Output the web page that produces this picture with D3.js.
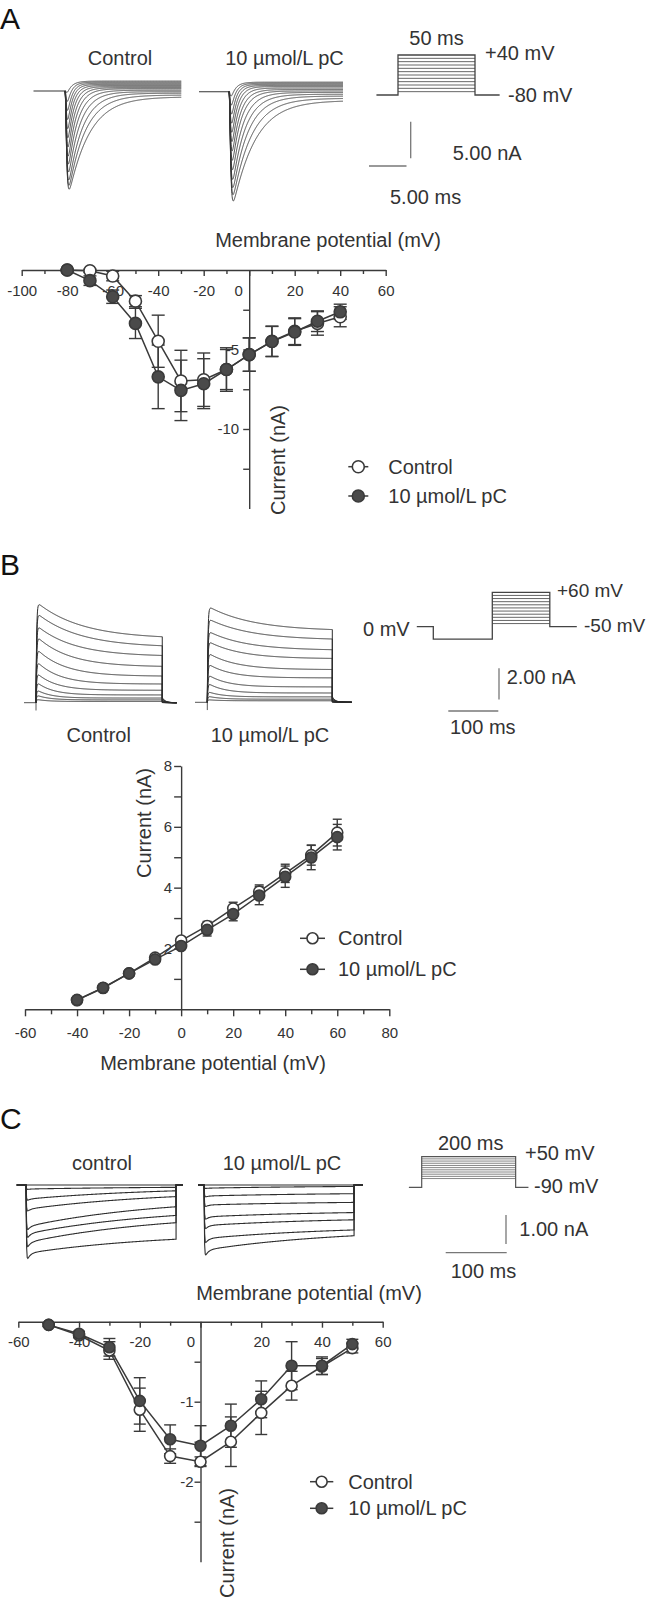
<!DOCTYPE html>
<html><head><meta charset="utf-8">
<script src="https://cdn.jsdelivr.net/npm/d3@7"></script>
<style>body{margin:0;background:#fff}svg{display:block}</style>
</head><body>
<script>
// ================= DATA =================
// Panel A (I-V, inward current)
const voltsA = [-80,-70,-60,-50,-40,-30,-20,-10,0,10,20,30,40];
const ctrlA = [0,-0.05,-0.38,-1.96,-4.48,-6.98,-6.9,-6.26,-5.32,-4.48,-3.85,-3.36,-2.94];
const ctrlSemA = [0.05,0.1,0.3,0.35,1.64,1.93,1.68,1.37,1.05,0.95,0.84,0.74,0.63];
const pcA = [0,-0.67,-1.68,-3.36,-6.72,-7.57,-7.15,-6.26,-5.32,-4.5,-3.9,-3.22,-2.63];
const pcSemA = [0.05,0.3,0.42,0.95,2.0,1.9,1.57,1.26,1.05,0.95,0.84,0.65,0.48];
const xTicksA = [-100,-80,-60,-40,-20,0,20,40,60];
const xMinorA = [-90,-70,-50,-30,-10,10,30,50];
const yTicksA = [-2.5,-5,-7.5,-10,-12.5];
const yLabelsA = [-5,-10];

// Panel B (I-V, outward current)
const voltsB = [-40,-30,-20,-10,0,10,20,30,40,50,60];
const ctrlB = [0.3,0.7,1.18,1.7,2.26,2.74,3.32,3.87,4.47,5.07,5.81];
const ctrlSemB = [0.03,0.04,0.05,0.08,0.1,0.15,0.2,0.22,0.3,0.33,0.44];
const pcB = [0.31,0.71,1.18,1.64,2.08,2.61,3.13,3.74,4.36,4.99,5.66];
const pcSemB = [0.03,0.04,0.05,0.08,0.1,0.2,0.22,0.3,0.35,0.4,0.42];
const xTicksB = [-60,-40,-20,0,20,40,60,80];
const xMinorB = [-50,-30,-10,10,30,50,70];
const yTicksB = [1,2,3,4,5,6,7,8];
const yLabelsB = [2,4,6,8];

// Panel C (I-V)
const voltsC = [-50,-40,-30,-20,-10,0,10,20,30,40,50];
const ctrlC = [-0.04,-0.17,-0.36,-1.10,-1.68,-1.75,-1.50,-1.14,-0.80,-0.56,-0.33];
const ctrlSemC = [0.02,0.03,0.11,0.27,0.09,0.06,0.31,0.27,0.18,0.1,0.06];
const pcC = [-0.04,-0.15,-0.32,-0.99,-1.47,-1.55,-1.30,-0.97,-0.55,-0.55,-0.28];
const pcSemC = [0.02,0.03,0.11,0.29,0.18,0.25,0.27,0.23,0.3,0.11,0.06];
const xTicksC = [-60,-40,-20,0,20,40,60];
const xMinorC = [-50,-30,-10,10,30,50];
const yTicksC = [-0.5,-1,-1.5,-2,-2.5];
const yLabelsC = [-1,-2];

// Representative current traces (per sweep parameters, nA / ms)
const trPeakA_ctrl = [-13.0,-12.6,-12.0,-11.0,-10.0,-9.0,-7.8,-6.6,-5.4,-4.2,-3.0,-1.8,-0.6];
const trTauA_ctrl  = [2.7,2.2,1.85,1.55,1.3,1.1,0.95,0.82,0.72,0.64,0.58,0.52,0.48];
const trSsA_ctrl   = [-0.8,-0.55,-0.3,-0.1,0.1,0.3,0.45,0.6,0.75,0.9,1.05,1.2,1.35];
const trPeakA_pc = [-14.3,-13.6,-12.8,-11.8,-10.6,-9.4,-8.2,-7.0,-5.8,-4.6,-3.4,-2.2,-1.0];
const trTauA_pc  = [2.9,2.4,2.0,1.7,1.45,1.2,1.05,0.9,0.78,0.68,0.6,0.54,0.5];
const trSsA_pc   = [-1.2,-0.9,-0.6,-0.35,-0.1,0.1,0.3,0.5,0.7,0.85,1.0,1.15,1.3];

const trStartB_ctrl = [6.5,5.8,5.0,4.3,3.5,2.7,1.95,1.35,0.85,0.5,0.22];
const trEndB_ctrl   = [4.1,3.55,2.97,2.3,1.7,1.2,0.8,0.5,0.3,0.18,0.08];
const trStartB_pc = [6.2,5.4,4.6,3.95,3.2,2.5,1.8,1.25,0.7,0.4,0.17];
const trEndB_pc   = [4.58,4.0,3.34,2.8,2.1,1.57,0.99,0.6,0.35,0.2,0.1];
const trTauB = [90,85,75,65,55,45,38,32,28,25,22];

const trStartC_ctrl = [0,-0.14,-0.49,-0.84,-1.44,-1.69,-1.99,-2.36];
const trEndC_ctrl   = [0,-0.08,-0.2,-0.4,-0.75,-1.05,-1.3,-1.87];
const trStartC_pc = [0,-0.11,-0.38,-0.69,-1.1,-1.4,-1.85,-2.25];
const trEndC_pc   = [0,-0.05,-0.3,-0.6,-0.95,-1.2,-1.55,-1.75];

// Voltage protocols (ms, mV)
const protoA_levels = [-70,-60,-50,-40,-30,-20,-10,0,10,20,30];
const protoA_path = [[-14,-80],[0,-80],[0,40],[50,40],[50,-80],[66,-80]];
const protoB_levels = [-40,-30,-20,-10,0,10,20,30,40,50];
const protoB_path = [[-151,-50],[-118,-50],[-118,-90],[0,-90],[0,60],[115,60],[115,-50],[169,-50]];
const protoC_levels = [-50,-40,-30,-20,-10,0,10,20,30,40];
const protoC_path = [[-21,-90],[0,-90],[0,50],[154,50],[154,-90],[175,-90]];

// ================= DRAWING =================
const FONT = '"Liberation Sans", Arial, Helvetica, sans-serif';
const TXT = '#333';
const AX = '#3a3a3a';
const svg = d3.select('body').append('svg').attr('width',650).attr('height',1605);
svg.append('rect').attr('width',650).attr('height',1605).attr('fill','#fff');

function txt(x, y, s, o = {}) {
  return svg.append('text').attr('x',x).attr('y',y).text(s)
    .attr('font-family',FONT).attr('font-size',o.size || 20)
    .attr('fill',o.fill || TXT).attr('text-anchor',o.anchor || 'start');
}
function vtxt(x, y, s) {
  svg.append('text').attr('transform',`translate(${x},${y}) rotate(-90)`)
    .attr('dy','0.35em').attr('text-anchor','middle')
    .attr('font-family',FONT).attr('font-size',20).attr('fill',TXT).text(s);
}
function seg(x1,y1,x2,y2,col,w){
  svg.append('line').attr('x1',x1).attr('y1',y1).attr('x2',x2).attr('y2',y2)
    .attr('stroke',col).attr('stroke-width',w);
}

function drawIV(o) {
  const g = svg.append('g');
  const {x, y} = o;
  const xa = g.append('g').attr('transform',`translate(0,${y(0)})`)
    .call(d3.axisBottom(x).tickValues(o.xMajor).tickSize(o.xTick).tickSizeOuter(0)
      .tickPadding(o.xPad).tickFormat(d => String(d)));
  const xm = g.append('g').attr('transform',`translate(0,${y(0)})`)
    .call(d3.axisBottom(x).tickValues(o.xMinor).tickSize(o.xTickMinor).tickSizeOuter(0).tickFormat(''));
  xm.select('.domain').remove();
  const ya = g.append('g').attr('transform',`translate(${x(0)},0)`)
    .call(d3.axisLeft(y).tickValues(o.yTicks).tickSize(o.yTick).tickSizeOuter(0)
      .tickPadding(o.yPad).tickFormat(d => o.yLabels.includes(d) ? String(d) : ''));
  [xa, xm, ya].forEach(a => {
    a.attr('font-size',15).attr('font-family',FONT);
    a.selectAll('path,line').attr('stroke',AX).attr('stroke-width',1.4);
    a.selectAll('text').attr('fill',TXT);
  });
  if (o.zeroShift) xa.selectAll('.tick').filter(d => d === 0).select('text').attr('dx',o.zeroShift);

  const series = [
    {v:o.ctrl, s:o.ctrlSem, fill:'#fff'},
    {v:o.pc, s:o.pcSem, fill:'#4a4a4a'}
  ];
  series.forEach(se => {
    const rows = d3.zip(o.volts, se.v, se.s);
    const eg = g.append('g').attr('stroke',AX).attr('stroke-width',1.4);
    rows.forEach(([vv, ii, ss]) => {
      const cx = x(vv), y1 = y(ii - ss), y2 = y(ii + ss);
      eg.append('line').attr('x1',cx).attr('x2',cx).attr('y1',y1).attr('y2',y2);
      eg.append('line').attr('x1',cx-o.capW/2).attr('x2',cx+o.capW/2).attr('y1',y1).attr('y2',y1);
      eg.append('line').attr('x1',cx-o.capW/2).attr('x2',cx+o.capW/2).attr('y1',y2).attr('y2',y2);
    });
  });
  const line = d3.line().x(d => x(d[0])).y(d => y(d[1]));
  series.forEach(se => {
    g.append('path').attr('d',line(d3.zip(o.volts, se.v))).attr('fill','none')
      .attr('stroke',AX).attr('stroke-width',1.5);
  });
  series.forEach(se => {
    g.append('g').selectAll('circle').data(d3.zip(o.volts, se.v)).join('circle')
      .attr('cx',d => x(d[0])).attr('cy',d => y(d[1])).attr('r',o.r)
      .attr('fill',se.fill).attr('stroke',AX).attr('stroke-width',1.6);
  });
  const L = o.legend;
  [['Control','#fff',L.y1],['10 µmol/L pC','#4a4a4a',L.y2]].forEach(([lab, f, ly]) => {
    seg(L.x1, ly, L.x2, ly, AX, 1.5);
    svg.append('circle').attr('cx',(L.x1+L.x2)/2).attr('cy',ly).attr('r',o.r)
      .attr('fill',f).attr('stroke',AX).attr('stroke-width',1.6);
    txt(L.tx, ly + 7, lab);
  });
}

// ---------- Panel A I-V ----------
const xA = d3.scaleLinear().domain([-100,60]).range([21.7,385.7]);
const yA = d3.scaleLinear().domain([0,-15]).range([270,508.5]);
drawIV({x:xA, y:yA, volts:voltsA, ctrl:ctrlA, ctrlSem:ctrlSemA, pc:pcA, pcSem:pcSemA,
  xMajor:xTicksA, xMinor:xMinorA, yTicks:yTicksA, yLabels:yLabelsA,
  xTick:6, xTickMinor:4, xPad:9, yTick:6, yPad:4, zeroShift:-11, r:6, capW:13,
  legend:{x1:348.3, x2:368.3, tx:388.3, y1:466.7, y2:496}});
txt(328, 247, 'Membrane potential (mV)', {anchor:'middle'});
vtxt(278, 460, 'Current (nA)');

// ---------- Panel B I-V ----------
const xB = d3.scaleLinear().domain([-60,80]).range([25,389.3]);
const yB = d3.scaleLinear().domain([0,8]).range([1009.3,766]);
drawIV({x:xB, y:yB, volts:voltsB, ctrl:ctrlB, ctrlSem:ctrlSemB, pc:pcB, pcSem:pcSemB,
  xMajor:xTicksB, xMinor:xMinorB, yTicks:yTicksB, yLabels:yLabelsB,
  xTick:7, xTickMinor:5, xPad:11.5, yTick:7, yPad:2, zeroShift:0, r:5.5, capW:9,
  legend:{x1:300, x2:325, tx:338, y1:938.3, y2:969.3}});
txt(213, 1070, 'Membrane potential (mV)', {anchor:'middle'});
vtxt(143.5, 823, 'Current (nA)');

// ---------- Panel C I-V ----------
const xC = d3.scaleLinear().domain([-60,60]).range([18.3,382.7]);
const yC = d3.scaleLinear().domain([0,-3]).range([1321.7,1561.7]);
drawIV({x:xC, y:yC, volts:voltsC, ctrl:ctrlC, ctrlSem:ctrlSemC, pc:pcC, pcSem:pcSemC,
  xMajor:xTicksC, xMinor:xMinorC, yTicks:yTicksC, yLabels:yLabelsC,
  xTick:6, xTickMinor:4, xPad:8.7, yTick:6, yPad:1, zeroShift:-10, r:5.5, capW:12,
  legend:{x1:310, x2:333.3, tx:348.3, y1:1481.7, y2:1508.3}});
txt(309, 1300, 'Membrane potential (mV)', {anchor:'middle'});
vtxt(226.7, 1543, 'Current (nA)');

// ---------- Panel letters ----------
txt(0, 29, 'A', {size:30, fill:'#111'});
txt(0, 575, 'B', {size:30, fill:'#111'});
txt(0, 1129, 'C', {size:30, fill:'#111'});

// ---------- trace helpers ----------
function drawTraces(traces, xs, ys, w, col) {
  const line = d3.line().x(d => xs(d[0])).y(d => ys(d[1]));
  const g = svg.append('g').attr('fill','none').attr('stroke',col || '#2e2e2e').attr('stroke-width',w || 1);
  traces.forEach(pts => g.append('path').attr('d',line(pts)));
}
function naTrace(peak, ti, ss, T) {
  const ta = 0.13;
  const grid = d3.range(0, T + 1e-9, 0.02);
  const fmax = d3.max(grid, t => Math.pow(1 - Math.exp(-t/ta),3) * Math.exp(-t/ti));
  return grid.map(t => [t, ss*(1 - Math.exp(-t/0.8)) + peak/fmax*Math.pow(1 - Math.exp(-t/ta),3)*Math.exp(-t/ti)]);
}
function kTrace(start, end, tau, T, tail) {
  const pts = [];
  d3.range(0, T + 1e-9, 0.5).forEach(t => pts.push([t, (end + (start-end)*Math.exp(-t/tau))*(1 - Math.exp(-t/1.2))]));
  d3.range(T, T + tail + 1e-9, 0.5).forEach(t => pts.push([t, 0.08*end*Math.exp(-(t-T)/6)]));
  return pts;
}
function caTrace(start, end, pre, T, post) {
  const tau = 220, k = Math.exp(-T/tau);
  const ss = (end - start*k)/(1 - k);
  const pts = [[pre,0],[0,0]];
  d3.range(0, T + 1e-9, 1).forEach(t => pts.push([t,
    (ss + (start-ss)*Math.exp(-t/tau) + 0.15*start*Math.exp(-t/5))*(1 - Math.exp(-t/0.6))]));
  pts.push([T,0],[post,0]);
  return pts;
}

// ---------- Panel A traces ----------
const xTA_c = d3.scaleLinear().domain([0,15.5]).range([65,181.25]);
const yTA_c = d3.scaleLinear().domain([0,-13]).range([91,186.3]);
seg(xTA_c(-4.2), yTA_c(0), xTA_c(0), yTA_c(0), '#555', 1.2);
drawTraces(trPeakA_ctrl.map((p,i) => naTrace(p, trTauA_ctrl[i], trSsA_ctrl[i], 15.5)), xTA_c, yTA_c, 0.9, '#333');
const xTA_p = d3.scaleLinear().domain([0,15.5]).range([229,345.25]);
const yTA_p = d3.scaleLinear().domain([0,-13]).range([91.7,187]);
seg(xTA_p(-4.0), yTA_p(0), xTA_p(0), yTA_p(0), '#555', 1.2);
drawTraces(trPeakA_pc.map((p,i) => naTrace(p, trTauA_pc[i], trSsA_pc[i], 15.2)), xTA_p, yTA_p, 0.9, '#333');
txt(120, 65, 'Control', {anchor:'middle'});
txt(284.5, 65, '10 µmol/L pC', {anchor:'middle'});

// protocol A
const tA = d3.scaleLinear().domain([0,50]).range([398,475]);
const vA = d3.scaleLinear().domain([-80,40]).range([95,55]);
protoA_levels.forEach(l => seg(tA(0), vA(l), tA(50), vA(l), '#555', 0.9));
svg.append('path').attr('d', d3.line().x(d => tA(d[0])).y(d => vA(d[1]))(protoA_path))
  .attr('fill','none').attr('stroke','#444').attr('stroke-width',1.3);
txt(tA(25), 45, '50 ms', {anchor:'middle'});
txt(485, 60, '+40 mV');
txt(508, 102, '-80 mV');
seg(410.7, 121.7, 410.7, 121.7 + (yTA_c(-5) - yTA_c(0)), '#777', 1.3);
seg(369, 166, 369 + (xTA_c(5) - xTA_c(0)), 166, '#777', 1.3);
txt(452.7, 160, '5.00 nA');
txt(390, 204, '5.00 ms');

// ---------- Panel B traces ----------
const xTB_c = d3.scaleLinear().domain([0,100]).range([36,86]);
const yTB_c = d3.scaleLinear().domain([0,1]).range([702.7,687.16]);
seg(xTB_c(-24), yTB_c(0), xTB_c(0), yTB_c(0), '#555', 1);
seg(xTB_c(0), yTB_c(-0.5), xTB_c(0), yTB_c(0), '#555', 1);
drawTraces(trStartB_ctrl.map((s,i) => kTrace(s, trEndB_ctrl[i], trTauB[i], 252.6, 29)), xTB_c, yTB_c, 1);
const xTB_p = d3.scaleLinear().domain([0,100]).range([207.3,257.3]);
const yTB_p = d3.scaleLinear().domain([0,1]).range([702.3,686.76]);
seg(xTB_p(-24.6), yTB_p(0), xTB_p(0), yTB_p(0), '#555', 1);
seg(xTB_p(0), yTB_p(-0.5), xTB_p(0), yTB_p(0), '#555', 1);
drawTraces(trStartB_pc.map((s,i) => kTrace(s, trEndB_pc[i], trTauB[i], 250, 39)), xTB_p, yTB_p, 1);
txt(98.7, 742, 'Control', {anchor:'middle'});
txt(270, 742, '10 µmol/L pC', {anchor:'middle'});

// protocol B
const tB = d3.scaleLinear().domain([0,100]).range([492.3,542.3]);
const vB = d3.scaleLinear().domain([-50,60]).range([626.7,592.3]);
protoB_levels.forEach(l => seg(tB(0), vB(l), tB(115), vB(l), '#555', 0.9));
svg.append('path').attr('d', d3.line().x(d => tB(d[0])).y(d => vB(d[1]))(protoB_path))
  .attr('fill','none').attr('stroke','#444').attr('stroke-width',1.3);
txt(363, 636, '0 mV');
txt(557, 597, '+60 mV', {size:19});
txt(584, 632, '-50 mV', {size:19});
seg(499, 668.3, 499, 668.3 + (yTB_c(0) - yTB_c(2)), '#777', 1.3);
seg(448.3, 711, 448.3 + (xTB_c(100) - xTB_c(0)), 711, '#777', 1.3);
txt(506.7, 684, '2.00 nA');
txt(450, 734, '100 ms');

// ---------- Panel C traces ----------
const xTC_c = d3.scaleLinear().domain([0,100]).range([26,87]);
const yTC_c = d3.scaleLinear().domain([0,-1]).range([1185,1214]);
drawTraces(trStartC_ctrl.map((s,i) => caTrace(s, trEndC_ctrl[i], -15.2, 246, 257)), xTC_c, yTC_c, 1.1);
const xTC_p = d3.scaleLinear().domain([0,100]).range([204,265]);
const yTC_p = d3.scaleLinear().domain([0,-1]).range([1185,1214]);
drawTraces(trStartC_pc.map((s,i) => caTrace(s, trEndC_pc[i], -9.8, 246, 260.6)), xTC_p, yTC_p, 1.1);
txt(102, 1170, 'control', {anchor:'middle'});
txt(282, 1170, '10 µmol/L pC', {anchor:'middle'});

// protocol C
const tC = d3.scaleLinear().domain([0,100]).range([421.7,482.7]);
const vC = d3.scaleLinear().domain([-90,50]).range([1187.3,1156.7]);
protoC_levels.forEach(l => seg(tC(0), vC(l), tC(154), vC(l), '#666', 0.8));
svg.append('path').attr('d', d3.line().x(d => tC(d[0])).y(d => vC(d[1]))(protoC_path))
  .attr('fill','none').attr('stroke','#555').attr('stroke-width',1.2);
txt(470.7, 1150, '200 ms', {anchor:'middle'});
txt(525, 1160, '+50 mV');
txt(534, 1193, '-90 mV');
seg(506, 1215, 506, 1215 + (yTC_c(-1) - yTC_c(0)), '#777', 1.3);
seg(445.7, 1252.7, 445.7 + (xTC_c(100) - xTC_c(0)), 1252.7, '#777', 1.3);
txt(519.3, 1236, '1.00 nA');
txt(450.7, 1278, '100 ms');
</script>
</body></html>
